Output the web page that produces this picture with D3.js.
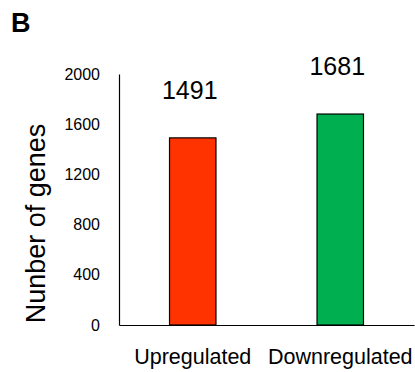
<!DOCTYPE html>
<html>
<head>
<meta charset="utf-8">
<script src="https://cdn.jsdelivr.net/npm/d3@7"></script>
<style>
html,body{margin:0;padding:0;background:#fff;}
svg{display:block;}
text{font-family:"Liberation Sans",Arial,sans-serif;fill:#000;}
</style>
</head>
<body>
<script>
const categories = ["Upregulated", "Downregulated"];
const values = [1491, 1681];
const colors = ["#FF3300", "#00B050"];
const yTicks = [0, 400, 800, 1200, 1600, 2000];
const yTitle = "Nunber of genes";
const panelLabel = "B";

const W = 415, H = 372;
const svg = d3.select("body").append("svg").attr("width", W).attr("height", H);

const x = d3.scaleBand().domain(categories).range([119, 414]).paddingInner(0.685).paddingOuter(0.3425);
const y = d3.scaleLinear().domain([0, 2000]).range([325, 74]);

// axes
const yAxis = d3.axisLeft(y).tickValues(yTicks).tickSize(0).tickPadding(19).tickFormat(d3.format("d"));
const gy = svg.append("g").attr("transform", "translate(119,0)").call(yAxis);
gy.select(".domain").attr("stroke", "#000").attr("stroke-width", 1.2);
gy.selectAll("text").style("font-size", "16px").attr("fill", "#000");

const xAxis = d3.axisBottom(x).tickSize(0).tickPadding(24);
const gx = svg.append("g").attr("transform", "translate(0,325)").call(xAxis);
gx.select(".domain").attr("stroke", "#000").attr("stroke-width", 1.2);
gx.selectAll("text").style("font-size", "21.5px").attr("fill", "#000");

// bars
svg.selectAll("rect.bar").data(categories).enter().append("rect")
  .attr("class", "bar")
  .attr("x", d => x(d))
  .attr("width", x.bandwidth())
  .attr("y", (d, i) => y(values[i]))
  .attr("height", (d, i) => y(0) - y(values[i]))
  .attr("fill", (d, i) => colors[i])
  .attr("stroke", "#000")
  .attr("stroke-width", 1.2);

// value labels
svg.selectAll("text.val").data(categories).enter().append("text")
  .attr("class", "val")
  .attr("x", d => x(d) + x.bandwidth() / 2 - 3)
  .attr("y", (d, i) => y(values[i]) - 39)
  .attr("text-anchor", "middle")
  .style("font-size", "25px")
  .text((d, i) => values[i]);

// y title
svg.append("text")
  .attr("transform", "translate(45," + ((120 + 327) / 2) + ") rotate(-90)")
  .attr("text-anchor", "middle")
  .style("font-size", "27px")
  .text(yTitle);

// panel label
svg.append("text")
  .attr("x", 11).attr("y", 32)
  .style("font-size", "27px").style("font-weight", "bold")
  .text(panelLabel);
</script>
</body>
</html>
